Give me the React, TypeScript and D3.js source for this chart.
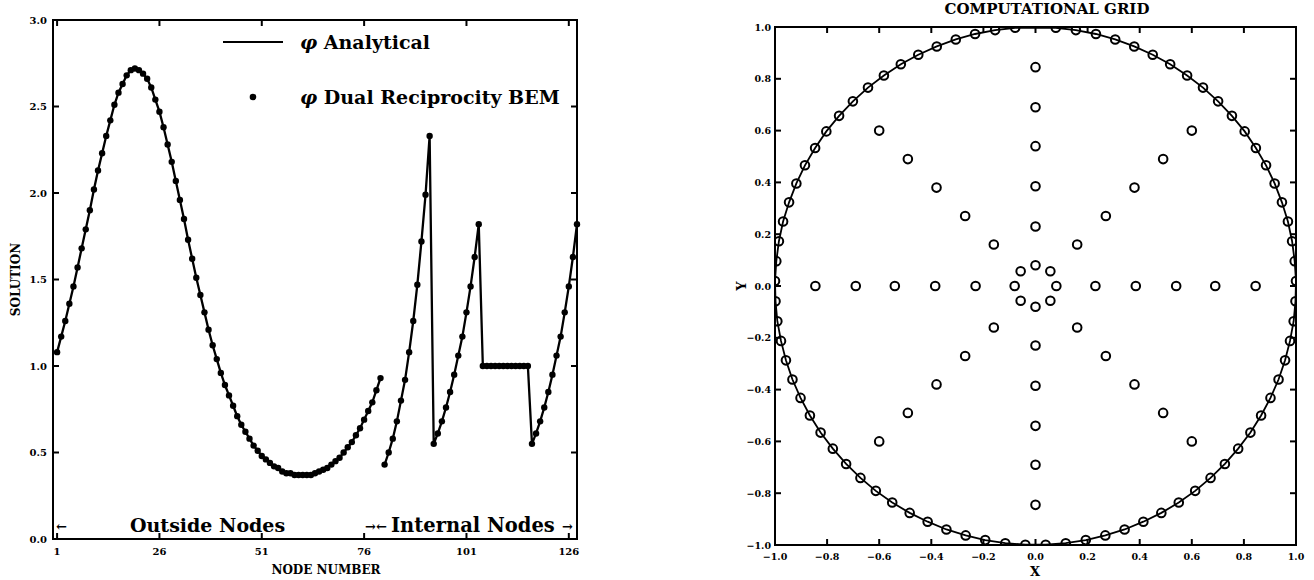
import React from "react";
import * as d3 from "d3";

// ---------- Left chart data ----------
const outsideValues = [
  1.08, 1.17, 1.26, 1.36, 1.46, 1.57, 1.68, 1.79, 1.9, 2.02,
  2.13, 2.23, 2.33, 2.42, 2.51, 2.58, 2.63, 2.68, 2.71, 2.72,
  2.71, 2.69, 2.66, 2.61, 2.54, 2.47, 2.38, 2.28, 2.18, 2.07,
  1.96, 1.85, 1.73, 1.62, 1.51, 1.41, 1.31, 1.21, 1.12, 1.04,
  0.96, 0.89, 0.83, 0.77, 0.71, 0.66, 0.62, 0.58, 0.54, 0.51,
  0.48, 0.46, 0.44, 0.42, 0.41, 0.39, 0.38, 0.38, 0.37, 0.37,
  0.37, 0.37, 0.37, 0.38, 0.39, 0.4, 0.41, 0.43, 0.45, 0.47,
  0.5, 0.53, 0.56, 0.6, 0.64, 0.69, 0.74, 0.79, 0.86, 0.93,
];
const internalValues = [
  0.43, 0.5, 0.58, 0.68, 0.8, 0.92, 1.08, 1.26, 1.47, 1.72, 1.99, 2.33,
  0.55, 0.61, 0.68, 0.76, 0.85, 0.95, 1.06, 1.17, 1.31, 1.46, 1.63, 1.82,
  1.0, 1.0, 1.0, 1.0, 1.0, 1.0, 1.0, 1.0, 1.0, 1.0, 1.0, 1.0,
  0.55, 0.61, 0.68, 0.76, 0.85, 0.95, 1.06, 1.17, 1.31, 1.46, 1.63, 1.82,
];
const nodeTicks = [1, 26, 51, 76, 101, 126];
const solutionTicks = [0, 0.5, 1.0, 1.5, 2.0, 2.5, 3.0];

// ---------- Right chart data ----------
const boundaryX = [
  0.078, 0.155, 0.232, 0.306, 0.379, 0.45, 0.517, 0.582, 0.643, 0.701,
  0.754, 0.803, 0.846, 0.885, 0.918, 0.946, 0.969, 0.985, 0.995, 1.0,
  0.998, 0.991, 0.977, 0.958, 0.933, 0.902, 0.866, 0.825, 0.778, 0.727,
  0.672, 0.613, 0.55, 0.483, 0.414, 0.342, 0.268, 0.193, 0.116, 0.039,
  -0.039, -0.116, -0.193, -0.268, -0.342, -0.414, -0.483, -0.55, -0.613, -0.672,
  -0.727, -0.778, -0.825, -0.866, -0.902, -0.933, -0.958, -0.977, -0.991, -0.998,
  -1.0, -0.995, -0.985, -0.969, -0.946, -0.918, -0.885, -0.846, -0.803, -0.754,
  -0.701, -0.643, -0.582, -0.517, -0.45, -0.379, -0.306, -0.232, -0.155, -0.078,
];
const boundaryY = [
  0.997, 0.988, 0.973, 0.952, 0.925, 0.893, 0.856, 0.813, 0.766, 0.713,
  0.657, 0.597, 0.533, 0.466, 0.396, 0.323, 0.249, 0.173, 0.096, 0.019,
  -0.059, -0.136, -0.212, -0.287, -0.361, -0.432, -0.5, -0.566, -0.628, -0.687,
  -0.741, -0.791, -0.836, -0.876, -0.91, -0.94, -0.963, -0.981, -0.993, -0.999,
  -0.999, -0.993, -0.981, -0.963, -0.94, -0.91, -0.876, -0.836, -0.791, -0.741,
  -0.687, -0.628, -0.566, -0.5, -0.432, -0.361, -0.287, -0.212, -0.136, -0.059,
  0.019, 0.096, 0.173, 0.249, 0.323, 0.396, 0.466, 0.533, 0.597, 0.657,
  0.713, 0.766, 0.813, 0.856, 0.893, 0.925, 0.952, 0.973, 0.988, 0.997,
];
const internalX = [
  -0.845, -0.69, -0.54, -0.385, -0.23, -0.08, 0.08, 0.23, 0.385, 0.54, 0.69, 0.845,
  -0.6, -0.49, -0.38, -0.27, -0.16, -0.057, 0.057, 0.16, 0.27, 0.38, 0.49, 0.6,
  0, 0, 0, 0, 0, 0, 0, 0, 0, 0, 0, 0,
  -0.6, -0.49, -0.38, -0.27, -0.16, -0.057, 0.057, 0.16, 0.27, 0.38, 0.49, 0.6,
];
const internalY = [
  0, 0, 0, 0, 0, 0, 0, 0, 0, 0, 0, 0,
  -0.6, -0.49, -0.38, -0.27, -0.16, -0.057, 0.057, 0.16, 0.27, 0.38, 0.49, 0.6,
  -0.845, -0.69, -0.54, -0.385, -0.23, -0.08, 0.08, 0.23, 0.385, 0.54, 0.69, 0.845,
  0.6, 0.49, 0.38, 0.27, 0.16, 0.057, -0.057, -0.16, -0.27, -0.38, -0.49, -0.6,
];
const gridTicks = [-1.0, -0.8, -0.6, -0.4, -0.2, 0.0, 0.2, 0.4, 0.6, 0.8, 1.0];

const FONT = "'DejaVu Serif', 'Liberation Serif', serif";

export default function App() {
  // ---- Left chart scales ----
  const L = { left: 53, right: 577, top: 20, bottom: 539 };
  const xL = d3.scaleLinear().domain([0, 128]).range([L.left, L.right]);
  const yL = d3.scaleLinear().domain([0, 3]).range([L.bottom, L.top]);
  const outside = outsideValues.map((v, i) => ({ n: i + 1, v }));
  const internal = internalValues.map((v, i) => ({ n: i + 1 + outsideValues.length, v }));
  const lineL = d3
    .line<{ n: number; v: number }>()
    .x((d) => xL(d.n))
    .y((d) => yL(d.v));

  // ---- Right chart scales ----
  const R = { left: 775, right: 1296, top: 27, bottom: 545 };
  const xR = d3.scaleLinear().domain([-1, 1]).range([R.left, R.right]);
  const yR = d3.scaleLinear().domain([-1, 1]).range([R.bottom, R.top]);
  const boundary = boundaryX.map((x, i) => [x, boundaryY[i]] as [number, number]);
  const lineR = d3
    .line<[number, number]>()
    .x((d) => xR(d[0]))
    .y((d) => yR(d[1]))
    .curve(d3.curveLinearClosed);

  const tk = 6;
  const fmt1 = d3.format(".1f");
  const fmtGrid = (v: number) => (Math.abs(v) < 1e-9 ? "0.0" : fmt1(v).replace("-", "−"));

  return (
    <svg
      width={1314}
      height={580}
      style={{ position: "absolute", left: 0, top: 0, background: "#fff" }}
      fontFamily={FONT}
    >
      <rect x={0} y={0} width={1314} height={580} fill="#fff" />
      <defs>
        <clipPath id="clipR">
          <rect x={R.left} y={R.top} width={R.right - R.left} height={R.bottom - R.top} />
        </clipPath>
      </defs>

      {/* ================= LEFT CHART ================= */}
      <g>
        {nodeTicks.map((t) => (
          <g key={"xt" + t}>
            <line x1={xL(t)} x2={xL(t)} y1={L.bottom} y2={L.bottom - tk} stroke="#000" strokeWidth={2} />
            <line x1={xL(t)} x2={xL(t)} y1={L.top} y2={L.top + tk} stroke="#000" strokeWidth={2} />
            <text x={xL(t)} y={L.bottom + 16} textAnchor="middle" fontSize={10} fontWeight="bold">
              {t}
            </text>
          </g>
        ))}
        {solutionTicks.map((t) => (
          <g key={"yt" + t}>
            <line x1={L.left} x2={L.left + tk} y1={yL(t)} y2={yL(t)} stroke="#000" strokeWidth={2} />
            <line x1={L.right} x2={L.right - tk} y1={yL(t)} y2={yL(t)} stroke="#000" strokeWidth={2} />
            <text x={L.left - 6} y={yL(t) + 3.5} textAnchor="end" fontSize={10} fontWeight="bold">
              {fmt1(t)}
            </text>
          </g>
        ))}
        <rect
          x={L.left}
          y={L.top}
          width={L.right - L.left}
          height={L.bottom - L.top}
          fill="none"
          stroke="#000"
          strokeWidth={2}
        />
        <path d={lineL(outside) || ""} fill="none" stroke="#000" strokeWidth={2.3} />
        <path d={lineL(internal) || ""} fill="none" stroke="#000" strokeWidth={2.3} />
        {outside.concat(internal).map((d) => (
          <circle key={"p" + d.n} cx={xL(d.n)} cy={yL(d.v)} r={3.2} fill="#000" />
        ))}

        {/* legend */}
        <line x1={223} x2={283} y1={42} y2={42} stroke="#000" strokeWidth={1.8} />
        <text x={300} y={49} fontSize={19} fontWeight="bold">
          <tspan fontStyle="italic">φ</tspan> Analytical
        </text>
        <circle cx={253} cy={97} r={3.3} fill="#000" />
        <text x={300} y={104} fontSize={19} fontWeight="bold">
          <tspan fontStyle="italic">φ</tspan> Dual Reciprocity BEM
        </text>

        {/* node region annotations */}
        <text x={56} y={531} fontSize={13} fontWeight="bold">←</text>
        <text x={130} y={532} fontSize={19} fontWeight="bold">Outside Nodes</text>
        <text x={365} y={531} fontSize={13} fontWeight="bold">→←</text>
        <text x={391} y={532} fontSize={19.5} fontWeight="bold">Internal Nodes</text>
        <text x={562} y={531} fontSize={13} fontWeight="bold">→</text>

        <text x={326} y={574} textAnchor="middle" fontSize={12} fontWeight="bold">
          NODE NUMBER
        </text>
        <text
          transform={`translate(20, ${(L.top + L.bottom) / 2}) rotate(-90)`}
          textAnchor="middle"
          fontSize={12}
          fontWeight="bold"
        >
          SOLUTION
        </text>
      </g>

      {/* ================= RIGHT CHART ================= */}
      <g>
        <text x={1047} y={14} textAnchor="middle" fontSize={15} fontWeight="bold">
          COMPUTATIONAL GRID
        </text>
        {gridTicks.map((t) => (
          <g key={"gx" + t}>
            <line x1={xR(t)} x2={xR(t)} y1={R.bottom} y2={R.bottom - tk} stroke="#000" strokeWidth={2} />
            <line x1={xR(t)} x2={xR(t)} y1={R.top} y2={R.top + tk} stroke="#000" strokeWidth={2} />
            <text x={xR(t)} y={R.bottom + 15} textAnchor="middle" fontSize={9.5} fontWeight="bold">
              {fmtGrid(t)}
            </text>
            <line x1={R.left} x2={R.left + tk} y1={yR(t)} y2={yR(t)} stroke="#000" strokeWidth={2} />
            <line x1={R.right} x2={R.right - tk} y1={yR(t)} y2={yR(t)} stroke="#000" strokeWidth={2} />
            <text x={R.left - 4} y={yR(t) + 3.5} textAnchor="end" fontSize={9.5} fontWeight="bold">
              {fmtGrid(t)}
            </text>
          </g>
        ))}
        <rect
          x={R.left}
          y={R.top}
          width={R.right - R.left}
          height={R.bottom - R.top}
          fill="none"
          stroke="#000"
          strokeWidth={2}
        />
        <g clipPath="url(#clipR)">
          <path d={lineR(boundary) || ""} fill="none" stroke="#000" strokeWidth={1.8} />
          {boundary.map((d, i) => (
            <circle key={"b" + i} cx={xR(d[0])} cy={yR(d[1])} r={4.3} fill="none" stroke="#000" strokeWidth={2} />
          ))}
          {internalX.map((x, i) => (
            <circle key={"in" + i} cx={xR(x)} cy={yR(internalY[i])} r={4.3} fill="none" stroke="#000" strokeWidth={2} />
          ))}
        </g>
        <text x={1035} y={576} textAnchor="middle" fontSize={13} fontWeight="bold">
          X
        </text>
        <text
          transform={`translate(746, ${yR(0)}) rotate(-90)`}
          textAnchor="middle"
          fontSize={13}
          fontWeight="bold"
        >
          Y
        </text>
      </g>
    </svg>
  );
}
